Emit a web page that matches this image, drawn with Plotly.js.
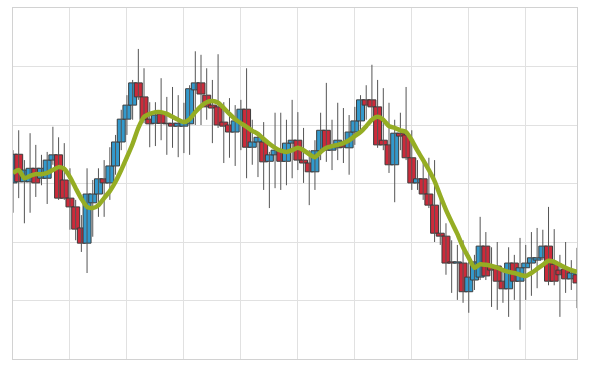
<!DOCTYPE html>
<html>
<head>
<meta charset="utf-8">
<script src="https://cdn.plot.ly/plotly-3.0.1.min.js"></script>
<style>html,body{margin:0;padding:0;background:#fff}#chart{width:592px;height:377px}</style>
</head>
<body>
<div id="chart"></div>
<script>
// Day index of each candle
var days = [];
for (var d = 0; d < 100; d++) days.push(d);

var openVals = [30.1,35.0,30.3,30.3,32.6,30.9,30.9,34.0,34.9,30.6,
  27.5,26.0,22.4,19.8,26.7,28.2,30.8,30.1,33.0,37.1,
  41.0,43.4,47.2,44.8,41.0,40.3,41.9,40.3,40.3,39.8,
  39.8,40.2,46.0,47.2,45.1,43.4,43.1,40.5,40.0,38.8,
  40.5,42.7,36.2,37.1,37.1,33.8,34.9,35.7,33.8,36.9,
  37.4,34.0,33.5,32.0,35.6,39.1,35.7,36.1,37.1,36.1,
  38.8,40.7,44.3,44.3,43.1,37.4,36.6,33.2,38.6,38.3,
  34.4,30.1,30.8,28.2,26.3,21.5,21.0,16.6,16.4,16.4,
  11.5,13.5,14.0,19.3,15.9,15.9,13.3,12.0,16.4,13.3,
  15.6,16.4,16.9,17.3,19.3,16.2,15.2,15.4,13.7,14.4];
var closeVals = [35.0,30.3,32.3,32.6,30.1,32.6,34.0,34.9,27.5,27.5,
  26.0,22.2,19.8,28.2,28.2,30.8,30.1,33.0,37.1,41.0,
  43.4,47.2,44.8,40.9,40.2,41.7,40.3,40.2,39.8,40.3,
  40.5,46.2,47.2,45.3,43.1,42.9,40.0,39.8,38.8,40.7,
  42.7,36.2,37.1,37.9,33.7,34.9,35.7,33.8,36.9,37.4,
  34.0,33.5,32.0,35.6,39.1,35.7,36.2,37.4,36.2,38.8,
  40.7,44.3,43.4,43.1,36.6,36.6,33.2,38.6,38.1,34.4,
  30.1,30.8,28.2,26.3,21.5,21.0,16.4,16.4,16.6,11.5,
  14.0,16.6,19.3,14.2,15.2,13.3,12.0,16.4,13.3,15.6,
  16.4,17.3,17.3,19.3,13.3,13.3,14.4,13.7,14.7,13.0];
var highVals = [35.7,39.1,34.0,38.6,36.6,34.9,35.4,39.7,37.9,36.9,
  32.6,27.2,24.6,32.6,30.6,32.6,34.0,36.2,38.3,42.6,
  45.1,47.7,53.0,49.7,43.9,43.9,48.0,44.8,46.5,45.1,
  43.8,46.8,52.6,52.0,49.7,47.7,52.1,43.9,44.6,43.4,
  44.3,49.7,40.9,38.6,40.5,35.4,42.1,42.1,40.9,44.3,
  42.2,39.5,35.7,37.4,42.1,47.2,40.9,43.8,42.9,41.7,
  43.1,45.1,46.8,50.3,47.7,46.3,43.8,40.9,42.1,46.5,
  39.1,34.0,34.5,34.4,34.0,28.0,23.2,20.3,19.5,20.3,
  16.6,17.8,24.3,21.7,19.1,20.0,15.2,19.1,17.8,20.7,
  19.5,21.7,22.4,22.1,26.0,22.2,17.8,20.0,16.9,19.0];
var lowVals = [25.0,27.5,23.2,25.0,27.7,29.7,26.5,33.2,27.2,27.2,
  22.1,20.3,18.3,14.7,20.9,24.3,24.3,27.2,31.5,35.7,
  38.3,40.9,44.3,40.3,36.2,36.4,37.4,34.9,36.1,34.5,
  35.2,34.9,40.0,40.0,40.9,36.9,39.5,33.5,34.4,33.0,
  35.7,30.9,33.2,31.1,28.9,25.8,29.2,28.9,29.7,30.9,
  32.3,30.1,26.3,28.9,34.0,33.7,32.3,34.0,33.5,31.5,
  36.6,39.1,40.9,40.9,36.1,35.7,31.8,26.8,35.7,34.0,
  28.9,28.9,27.2,25.8,20.0,19.5,14.4,11.3,10.1,9.6,
  7.9,11.8,13.5,13.5,8.9,8.4,9.6,7.2,10.1,5.0,
  10.1,10.8,12.1,16.9,12.6,12.6,7.2,11.3,11.8,8.7];
var maVals = [31.8,32.3,30.9,31.3,31.6,31.6,31.8,32.3,32.8,32.5,
  31.1,29.2,27.4,26.0,25.8,26.3,27.5,28.7,30.3,32.3,
  34.5,36.8,39.5,41.4,41.9,42.2,42.2,41.9,41.4,40.9,
  40.5,41.0,42.2,43.2,43.9,44.1,43.8,42.9,41.9,41.0,
  40.3,39.7,39.0,38.5,37.6,36.8,36.1,35.6,35.4,35.7,
  36.1,35.7,35.0,34.5,35.4,36.1,36.4,36.6,36.9,37.4,
  38.1,38.8,39.8,40.9,41.4,40.9,39.8,39.5,39.1,38.8,
  37.4,35.6,34.0,32.3,30.4,27.9,25.5,23.4,21.4,19.1,
  17.3,15.6,16.2,16.1,15.9,15.6,15.2,14.9,14.7,14.4,
  14.2,14.7,15.4,16.1,16.8,16.6,16.1,15.6,15.2,14.9];

var upColor = '#3399cc', downColor = '#cc2a3a', edgeColor = '#3c3c3c';

// wicks
var wx = [], wy = [];
for (var i = 0; i < days.length; i++) {
  wx.push(days[i], days[i], null);
  wy.push(lowVals[i], highVals[i], null);
}
// bodies
var bBase = [], bLen = [], bCol = [];
for (var j = 0; j < days.length; j++) {
  bBase.push(Math.min(openVals[j], closeVals[j]));
  bLen.push(Math.abs(closeVals[j] - openVals[j]));
  bCol.push(closeVals[j] >= openVals[j] ? upColor : downColor);
}

var traces = [
  {type:'scatter', mode:'lines', x:wx, y:wy, line:{color:'#555555', width:1}, hoverinfo:'skip', showlegend:false},
  {type:'bar', x:days, y:bLen, base:bBase, width:1.4,
   marker:{color:bCol, line:{color:edgeColor, width:1}}, hoverinfo:'skip', showlegend:false},
  {type:'scatter', mode:'lines', x:days, y:maVals, line:{color:'#95ad24', width:4.5, shape:'spline', smoothing:0.6}, hoverinfo:'skip', showlegend:false}
];

var layout = {
  width:592, height:377,
  margin:{l:13, r:15, t:8, b:18},
  paper_bgcolor:'#ffffff', plot_bgcolor:'#ffffff',
  showlegend:false,
  xaxis:{range:[0,99], tick0:0, dtick:10, showticklabels:false, ticks:'',
         showgrid:true, gridcolor:'#e1e1e1', gridwidth:1, zeroline:false,
         showline:true, mirror:true, linecolor:'#d2d2d2', linewidth:1},
  yaxis:{range:[0,60], tick0:0, dtick:10, showticklabels:false, ticks:'',
         showgrid:true, gridcolor:'#e1e1e1', gridwidth:1, zeroline:false,
         showline:true, mirror:true, linecolor:'#d2d2d2', linewidth:1}
};

Plotly.newPlot('chart', traces, layout, {staticPlot:true, displayModeBar:false});
</script>
</body>
</html>
